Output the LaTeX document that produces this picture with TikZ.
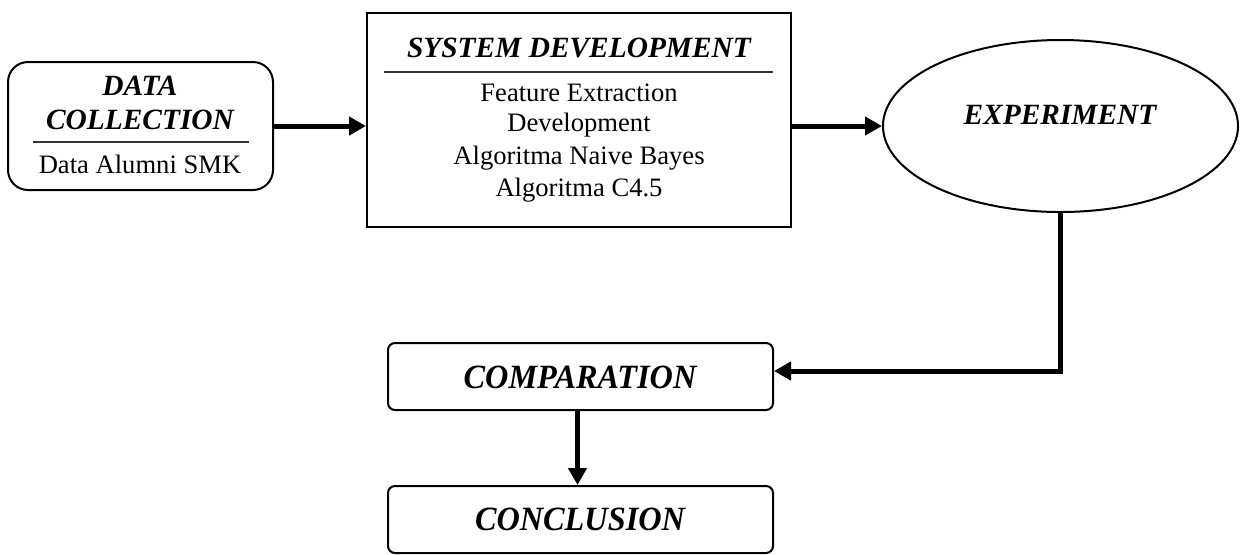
\documentclass[tikz,border=0pt]{standalone}
\usepackage{fontspec}
\setmainfont{Liberation Serif}
\usepackage{graphicx}
\usetikzlibrary{arrows.meta,fit,shapes.geometric}
\begin{document}
\begin{tikzpicture}[x=0.5pt,y=-0.5pt,
  boxline/.style={draw, line width=1pt, inner sep=0pt},
  arr/.style={line width=2.5pt, -{Triangle[length=8.5pt,width=9pt]}},
  sepline/.style={line width=0.8pt, draw=black!80},
  txt/.style={font=\fontsize{13.3}{15}\selectfont, inner sep=0pt},
  head/.style={font=\fontsize{14.7}{16}\selectfont\bfseries\itshape, inner sep=0pt},
  bighead/.style={font=\fontsize{17}{19}\selectfont\bfseries\itshape, inner sep=0pt}
]
\useasboundingbox (0,0) rectangle (1246,554);
% Data collection
\node[boxline, rounded corners=10pt, fit={(8,62)(273,190)}] (dc) {};
\node[head] (dct1) at (140,86) {DATA};
\node[head] (dct2) at (140,120) {COLLECTION};
\draw[sepline] (33,142) -- (249,142);
\node[txt] (dct3) at (140,164) {Data Alumni SMK};
% System development
\node[boxline, fit={(367,13)(791,227)}] (sd) {};
\node[head] (sdt) at (579,48) {SYSTEM DEVELOPMENT};
\draw[sepline] (384,72) -- (773,72);
\node[txt] (sd1) at (579,93) {Feature Extraction};
\node[txt] (sd2) at (579,125) {Development};
\node[txt] (sd3) at (579,158) {Algoritma Naive Bayes};
\node[txt] (sd4) at (579,190) {Algoritma C4.5};
% Experiment
\node[ellipse, draw, line width=1pt, minimum width=177.5pt, minimum height=86pt, inner sep=0pt] (ex) at (1060.5,126) {};
\node[head] (ext) at (1060,115) {EXPERIMENT};
% Comparation
\node[boxline, rounded corners=3.5pt, fit={(388,343)(773,410)}] (cmp) {};
\node[bighead] (cmpt) at (580,377) {\scalebox{0.95}[1]{COMPARATION}};
% Conclusion
\node[boxline, rounded corners=3.5pt, fit={(388,486)(773,553)}] (conc) {};
\node[bighead] (conct) at (580,519) {\scalebox{0.95}[1]{CONCLUSION}};
% connectors
\draw[arr] (dc.east) -- (dc.east -| sd.west);
\draw[arr] (sd.east |- ex.west) -- (ex.west);
\draw[arr] (ex.south) |- ([yshift=2.75pt]cmp.east);
\draw[arr] ([xshift=-1.5pt]cmp.south) -- ([xshift=-1.5pt]conc.north);
\end{tikzpicture}
\end{document}
